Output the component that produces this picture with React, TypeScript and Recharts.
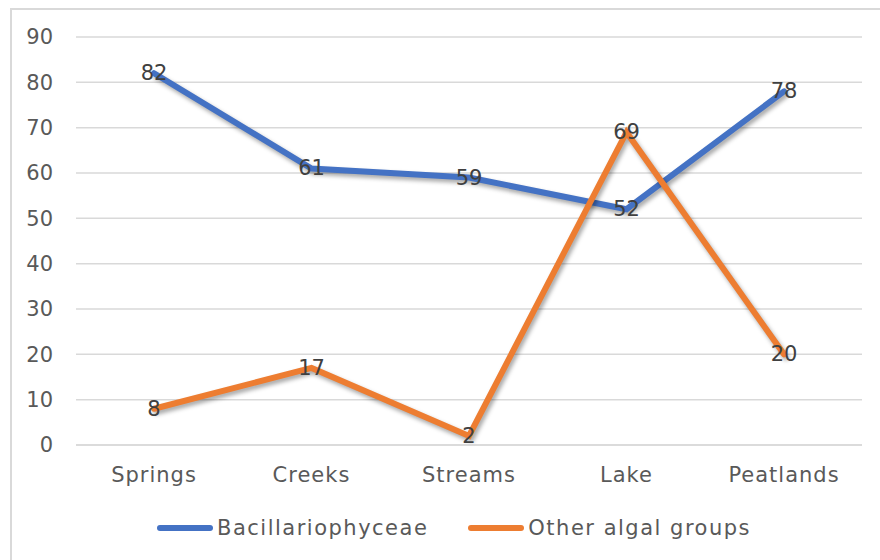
import React from 'react';
import { LineChart, Line, XAxis, YAxis, CartesianGrid, Legend, LabelList } from 'recharts';

const categories = ['Springs', 'Creeks', 'Streams', 'Lake', 'Peatlands'];
const bacillariophyceae = [82, 61, 59, 52, 78];
const otherAlgal = [8, 17, 2, 69, 20];
const yTicks = [0, 10, 20, 30, 40, 50, 60, 70, 80, 90];

const SERIES = [
  { key: 'bac', name: 'Bacillariophyceae', color: '#4472C4' },
  { key: 'other', name: 'Other algal groups', color: '#ED7D31' },
];

const data = categories.map((c, i) => ({
  name: c,
  bac: bacillariophyceae[i],
  other: otherAlgal[i],
}));

const FONT = '"DejaVu Sans", sans-serif';

const renderValue = (props: any) => {
  const { x, y, value } = props;
  return (
    <text x={x} y={y} textAnchor="middle" dominantBaseline="central" fill="#404040" fontSize={21} fontFamily={FONT}>
      {value}
    </text>
  );
};

const renderLegend = () => (
  <div style={{ display: 'flex', justifyContent: 'center', paddingLeft: 36, fontFamily: FONT, fontSize: 21, letterSpacing: 1.5, color: '#595959' }}>
    {SERIES.map((s, i) => (
      <div key={s.key} style={{ display: 'flex', alignItems: 'center', marginLeft: i ? 40 : 0 }}>
        <span style={{ display: 'inline-block', width: 56, height: 6, borderRadius: 3, background: s.color, marginRight: 4 }} />
        <span>{s.name}</span>
      </div>
    ))}
  </div>
);

export default function App() {
  return (
    <div style={{ position: 'relative', width: 880, height: 560 }}>
      <style>{`body{margin:0;overflow:hidden}.recharts-line-curve{filter:drop-shadow(2px 3px 2px rgba(0,0,0,0.35))}`}</style>
      <div style={{ position: 'absolute', left: 10, top: 8, width: 880, height: 570, border: '2px solid #d9d9d9', boxSizing: 'border-box' }} />
      <LineChart width={880} height={560} data={data} margin={{ top: 37, right: 18, bottom: 31, left: 10 }}>
        <CartesianGrid vertical={false} stroke="#d9d9d9" strokeWidth={1.5} />
        <XAxis
          dataKey="name"
          padding={{ left: 78, right: 78 }}
          axisLine={{ stroke: '#d9d9d9', strokeWidth: 1.5 }}
          tickLine={false}
          tickSize={0}
          tickMargin={22}
          height={60}
          tick={{ fill: '#595959', fontSize: 21, fontFamily: FONT, letterSpacing: 1 }}
        />
        <YAxis
          domain={[0, 90]}
          ticks={yTicks}
          axisLine={false}
          tickLine={false}
          tickSize={0}
          tickMargin={23}
          width={66}
          tick={{ fill: '#595959', fontSize: 21, fontFamily: FONT }}
        />
        <Legend content={renderLegend} verticalAlign="bottom" wrapperStyle={{ bottom: 20 }} />
        {SERIES.map((s) => (
          <Line
            key={s.key}
            dataKey={s.key}
            name={s.name}
            stroke={s.color}
            strokeWidth={6}
            strokeLinecap="round"
            dot={false}
            activeDot={false}
            isAnimationActive={false}
          >
            <LabelList dataKey={s.key} content={renderValue} />
          </Line>
        ))}
      </LineChart>
    </div>
  );
}
